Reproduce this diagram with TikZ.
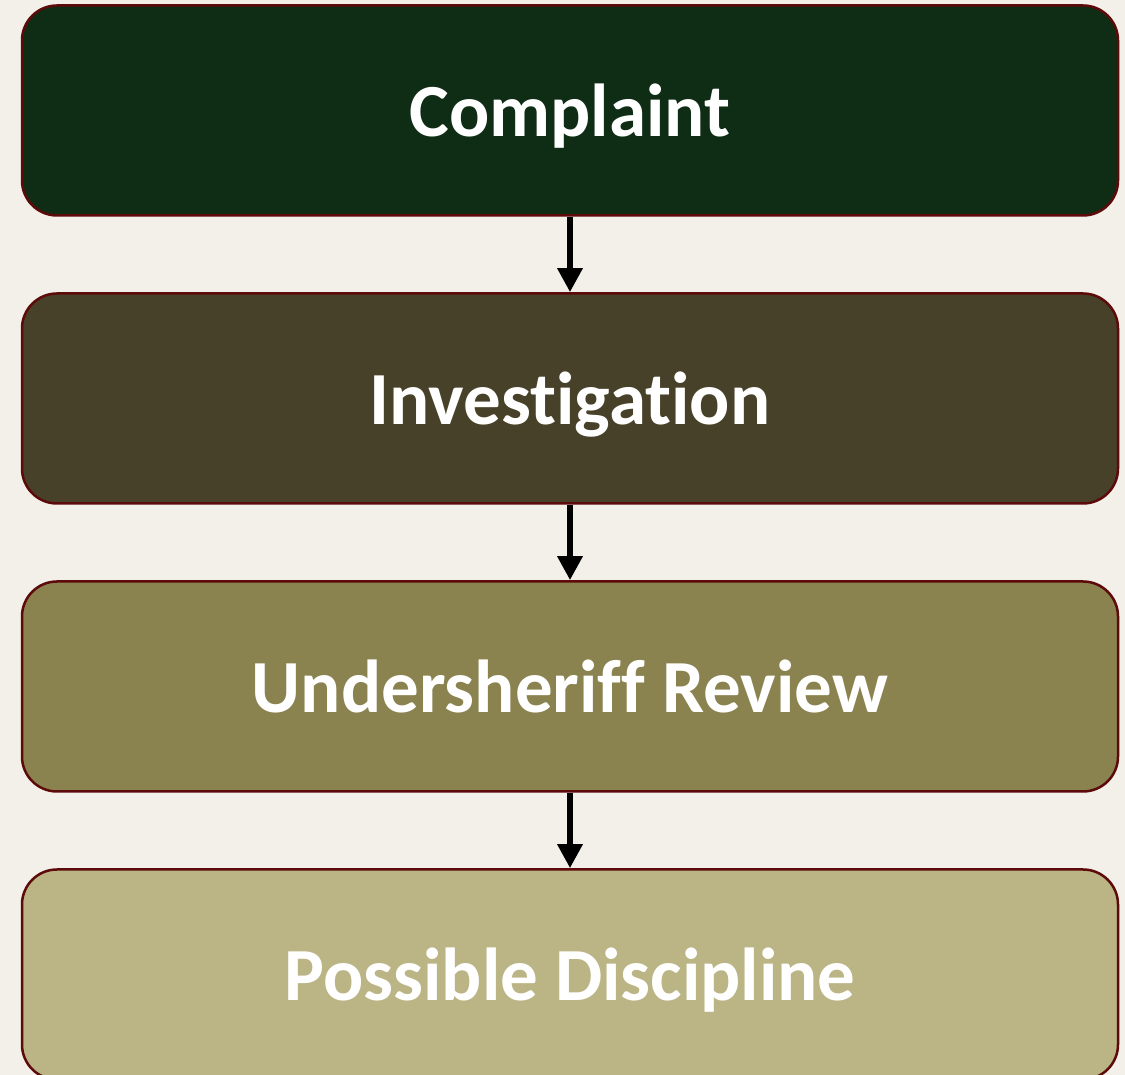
\documentclass[tikz,border=0pt]{standalone}
\usepackage{fontspec}
\setmainfont{Carlito}[Ligatures=NoCommon]
\usetikzlibrary{positioning,arrows.meta}

\definecolor{bgbeige}{HTML}{F3EFE9}
\definecolor{boxline}{HTML}{5C0A0A}
\definecolor{stepa}{HTML}{0F2D14}
\definecolor{stepb}{HTML}{48412A}
\definecolor{stepc}{HTML}{8A834F}
\definecolor{stepd}{HTML}{BBB586}

\tikzset{
  stage/.style={draw=boxline, line width=2.5pt, rounded corners=35pt,
    minimum width=1096pt, minimum height=210pt, text=white,
    text height=64pt, text depth=12pt,
    font=\fontsize{75}{88}\selectfont\bfseries},
  flow/.style={line width=6pt, -{Triangle[width=24pt,length=24pt]}}
}

\begin{document}
\begin{tikzpicture}[node distance=75.5pt]

% Background
  \fill[bgbeige] (0,0) rectangle (1125pt,1075pt);
  \useasboundingbox (0,0) rectangle (1125pt,1075pt);

% Nodes
  \node[stage, fill=stepa] at (570pt,964.5pt) (complaint) {Complaint}; %
  \node[stage, fill=stepb, below = of complaint] (investigation) {Investigation}; %
  \node[stage, fill=stepc, below = of investigation] (review) {Undersheriff Review}; %
  \node[stage, fill=stepd, below = of review] (discipline) {Possible Discipline}; %

% Edges
  \draw[flow] (complaint) -- (investigation);
  \draw[flow] (investigation) -- (review);
  \draw[flow] (review) -- (discipline);

\end{tikzpicture}
\end{document}
